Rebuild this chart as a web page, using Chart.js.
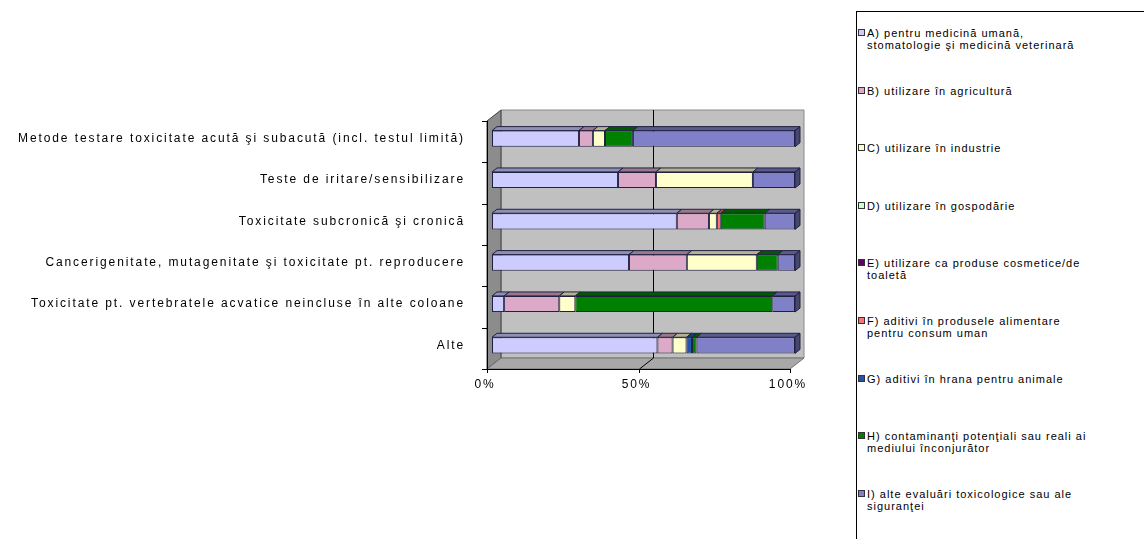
<!DOCTYPE html>
<html lang="ro">
<head>
<meta charset="utf-8">
<script src="https://cdn.jsdelivr.net/npm/chart.js@4.4.1/dist/chart.umd.min.js"></script>
<style>
  html, body { margin: 0; padding: 0; background: #fff; width: 1144px; height: 539px; overflow: hidden; }
  #wrap { position: relative; width: 1144px; height: 539px; overflow: hidden; }
  #chart { position: absolute; left: 0; top: 0; }
  #legend {
    position: absolute; left: 856px; top: 11px; width: 420px; height: 600px;
    border: 1px solid #000; box-sizing: border-box; background: #fff;
    font-family: "Liberation Sans", Arial, sans-serif; font-size: 11px;
    letter-spacing: 1px; color: #000;
  }
  .item { position: absolute; left: 10px; line-height: 12px; white-space: nowrap; }
  .mark { position: absolute; left: 1px; width: 7px; height: 7px; border: 1px solid #333; box-sizing: border-box; }
</style>
</head>
<body>
<div id="wrap">
  <canvas id="chart" width="1144" height="539"></canvas>
  <div id="legend"></div>
</div>
<script>
// Categories (testing domains)
const categories = [
  'Metode testare toxicitate acută şi subacută (incl. testul limită)',
  'Teste de iritare/sensibilizare',
  'Toxicitate subcronică şi cronică',
  'Cancerigenitate, mutagenitate şi toxicitate pt. reproducere',
  'Toxicitate pt. vertebratele acvatice neincluse în alte coloane',
  'Alte'
];

// Series names (one entry per line of the legend text)
const seriesNames = [
  ['A) pentru medicină umană,', 'stomatologie şi medicină veterinară'],
  ['B) utilizare în agricultură'],
  ['C) utilizare în industrie'],
  ['D) utilizare în gospodărie'],
  ['E) utilizare ca produse cosmetice/de', 'toaletă'],
  ['F) aditivi în produsele alimentare', 'pentru consum uman'],
  ['G) aditivi în hrana pentru animale'],
  ['H) contaminanţi potenţiali sau reali ai', 'mediului înconjurător'],
  ['I) alte evaluări toxicologice sau ale', 'siguranţei']
];

// Share (%) of each use category per testing domain
const seriesA = [28.7, 41.6, 61.0, 45.2, 4.0, 54.6];
const seriesB = [4.6, 12.5, 10.6, 19.1, 18.2, 5.0];
const seriesC = [4.0, 32.0, 2.6, 23.1, 5.3, 4.6];
const seriesD = [0, 0, 0, 0, 0, 0];
const seriesE = [0, 0, 0, 0, 0, 0];
const seriesF = [0, 0, 1.3, 0, 0, 0];
const seriesG = [0, 0, 0, 0, 0, 1.8];
const seriesH = [9.2, 0, 14.5, 6.9, 65.0, 1.5];
const seriesI = [53.5, 13.9, 10.0, 5.7, 7.5, 32.5];

// Value axis ticks
const tickValues = [0, 50, 100];
const tickLabels = ['0%', '50%', '100%'];

const seriesValues = [seriesA, seriesB, seriesC, seriesD, seriesE, seriesF, seriesG, seriesH, seriesI];
const seriesColors = ['#ccccff', '#dcaac8', '#ffffcc', '#ccffcc', '#660066', '#ff7070', '#2255aa', '#008000', '#8080c8'];

function shade(hex, f) {
  const n = parseInt(hex.slice(1), 16);
  const r = Math.round(((n >> 16) & 255) * f);
  const g = Math.round(((n >> 8) & 255) * f);
  const b = Math.round((n & 255) * f);
  return 'rgb(' + r + ',' + g + ',' + b + ')';
}

// 3D geometry: front plane and back wall offsets relative to the chart area
const FRONT = { x: -5, y: 3 };
const BACK = { x: 9, y: -8 };
const BAR_DEPTH = { x: 5, y: -4 };

function poly(ctx, pts, fill, stroke) {
  ctx.beginPath();
  ctx.moveTo(pts[0][0], pts[0][1]);
  for (let i = 1; i < pts.length; i++) ctx.lineTo(pts[i][0], pts[i][1]);
  ctx.closePath();
  if (fill) { ctx.fillStyle = fill; ctx.fill(); }
  if (stroke) { ctx.strokeStyle = stroke; ctx.lineWidth = 1; ctx.stroke(); }
}

const textSpacing = {
  id: 'textSpacing',
  beforeDraw(chart) { chart.ctx.letterSpacing = '1.9px'; }
};

const walls3d = {
  id: 'walls3d',
  beforeDatasetsDraw(chart) {
    const ctx = chart.ctx;
    const { left: L, right: R, top: T, bottom: B } = chart.chartArea;
    const xs = chart.scales.x, ys = chart.scales.y;
    const f = { x0: L + FRONT.x, x1: R + FRONT.x, y0: T + FRONT.y, y1: B + FRONT.y };
    const b = { x0: L + BACK.x, x1: R + BACK.x, y0: T + BACK.y, y1: B + BACK.y };
    ctx.save();
    // back wall
    poly(ctx, [[b.x0, b.y0], [b.x1, b.y0], [b.x1, b.y1], [b.x0, b.y1]], '#c0c0c0', '#8a8a8a');
    // left side wall
    poly(ctx, [[f.x0, f.y0], [b.x0, b.y0], [b.x0, b.y1], [f.x0, f.y1]], '#8c8c8c', '#404040');
    // floor
    poly(ctx, [[f.x0, f.y1], [f.x1, f.y1], [b.x1, b.y1], [b.x0, b.y1]], '#a8a8a8', '#707070');
    // value gridlines on back wall and floor
    ctx.strokeStyle = '#000';
    ctx.lineWidth = 1;
    xs.ticks.forEach(t => {
      if (t.value <= xs.min || t.value >= xs.max) return;
      const px = Math.round(xs.getPixelForValue(t.value)) + 0.5;
      ctx.beginPath();
      ctx.moveTo(px + BACK.x, b.y0);
      ctx.lineTo(px + BACK.x, b.y1);
      ctx.lineTo(px + FRONT.x, f.y1);
      ctx.stroke();
    });
    // category axis with tick marks between categories
    ctx.beginPath();
    ctx.moveTo(f.x0 + 0.5, f.y0);
    ctx.lineTo(f.x0 + 0.5, f.y1);
    for (let i = 0; i <= categories.length; i++) {
      const py = Math.round(ys.getPixelForValue(i - 0.5) + FRONT.y) + 0.5;
      ctx.moveTo(f.x0 - 5, py);
      ctx.lineTo(f.x0 + 0.5, py);
    }
    // value axis with tick marks
    ctx.moveTo(f.x0, Math.round(f.y1) + 0.5);
    ctx.lineTo(f.x1, Math.round(f.y1) + 0.5);
    xs.ticks.forEach(t => {
      const px = Math.round(xs.getPixelForValue(t.value) + FRONT.x) + 0.5;
      ctx.moveTo(px, f.y1);
      ctx.lineTo(px, f.y1 + 4);
    });
    ctx.stroke();
    ctx.restore();
  },
  afterDatasetsDraw(chart) {
    const ctx = chart.ctx;
    ctx.save();
    const last = {};
    chart.data.datasets.forEach((ds, di) => {
      const meta = chart.getDatasetMeta(di);
      meta.data.forEach((el, i) => {
        const p = el.getProps(['x', 'base', 'y', 'height'], true);
        if (Math.abs(p.x - p.base) < 0.5) return;
        const top = p.y - p.height / 2;
        const x0 = Math.min(p.x, p.base), x1 = Math.max(p.x, p.base);
        poly(ctx, [[x0, top], [x1, top], [x1 + BAR_DEPTH.x, top + BAR_DEPTH.y], [x0 + BAR_DEPTH.x, top + BAR_DEPTH.y]],
          shade(ds.backgroundColor, 0.7), '#202040');
        if (!last[i] || x1 >= last[i].x1) last[i] = { x1, top, bottom: p.y + p.height / 2, color: ds.backgroundColor };
      });
    });
    Object.values(last).forEach(s => {
      poly(ctx, [[s.x1, s.top], [s.x1 + BAR_DEPTH.x, s.top + BAR_DEPTH.y], [s.x1 + BAR_DEPTH.x, s.bottom + BAR_DEPTH.y], [s.x1, s.bottom]],
        shade(s.color, 0.55), '#202040');
    });
    ctx.restore();
  }
};

Chart.defaults.font.family = '"Liberation Sans", Arial, sans-serif';
Chart.defaults.font.size = 12;
Chart.defaults.color = '#000';

new Chart(document.getElementById('chart'), {
  type: 'bar',
  data: {
    labels: categories,
    datasets: seriesValues.map((vals, i) => ({
      label: seriesNames[i].join(' '),
      data: vals,
      backgroundColor: seriesColors[i],
      borderColor: '#202040',
      borderWidth: 1,
      borderSkipped: false,
      categoryPercentage: 1,
      barPercentage: 0.39
    }))
  },
  options: {
    indexAxis: 'y',
    responsive: false,
    animation: false,
    devicePixelRatio: 1,
    layout: { padding: { top: 118, right: 349, bottom: 0, left: 0 } },
    plugins: { legend: { display: false }, tooltip: { enabled: false } },
    scales: {
      x: {
        stacked: true, min: 0, max: 100,
        grid: { display: false, drawTicks: false },
        border: { display: false },
        afterBuildTicks(scale) { scale.ticks = tickValues.map(v => ({ value: v })); },
        afterFit(scale) { scale.height = 539 - 366; },
        ticks: {
          padding: 11,
          labelOffset: -7,
          callback(value) { return tickLabels[tickValues.indexOf(value)]; }
        }
      },
      y: {
        stacked: true,
        grid: { display: false, drawTicks: false },
        border: { display: false },
        afterFit(scale) { scale.width = 492; },
        ticks: { padding: 27 }
      }
    }
  },
  plugins: [textSpacing, walls3d]
});

// Legend box
const legend = document.getElementById('legend');
seriesNames.forEach((lines, i) => {
  const item = document.createElement('div');
  item.className = 'item';
  item.style.top = (15 + i * 57.6) + 'px';
  const mark = document.createElement('div');
  mark.className = 'mark';
  mark.style.background = seriesColors[i];
  mark.style.top = (17 + i * 57.6) + 'px';
  legend.appendChild(mark);
  item.innerHTML = lines.join('<br>');
  legend.appendChild(item);
});
</script>
</body>
</html>
